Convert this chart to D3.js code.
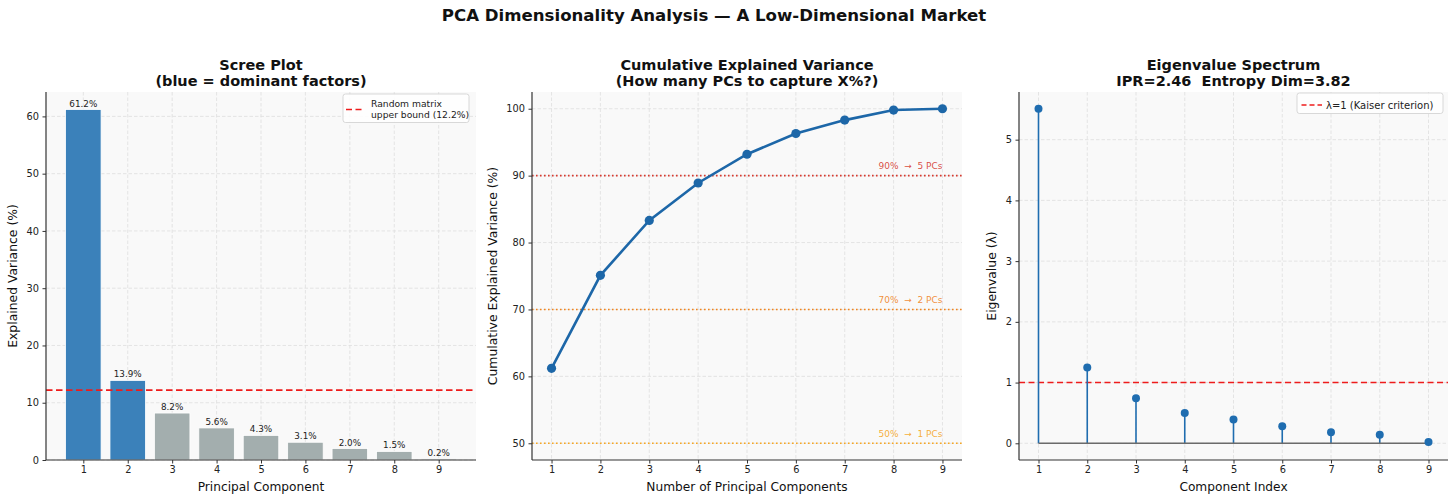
<!DOCTYPE html>
<html>
<head>
<meta charset="utf-8">
<script src="https://cdn.jsdelivr.net/npm/d3@7"></script>
<style>
  body { margin: 0; background: #fff; }
  svg { font-family: "DejaVu Sans", sans-serif; display: block; }
</style>
</head>
<body>
<svg width="1456" height="502"></svg>
<script>
// data
const components = [1, 2, 3, 4, 5, 6, 7, 8, 9];
const explainedPct = [61.2, 13.9, 8.2, 5.6, 4.3, 3.1, 2.0, 1.5, 0.2];
const cumulativePct = [61.2, 75.1, 83.3, 88.9, 93.2, 96.3, 98.3, 99.8, 100.0];
const eigenvalues = [5.51, 1.25, 0.74, 0.50, 0.39, 0.28, 0.18, 0.14, 0.02];
const dominantCount = 2;
const randomBound = 12.2;
const thresholdLevels = [90, 70, 50];
const thresholdPCs = [5, 2, 1];
const kaiserLevel = 1;

const screeTicks = [0, 10, 20, 30, 40, 50, 60];
const cumTicks = [50, 60, 70, 80, 90, 100];
const eigTicks = [0, 1, 2, 3, 4, 5];

const svg = d3.select("svg");
const axTop = 92, axBottom = 460;

// suptitle
svg.append("text")
  .attr("x", 714).attr("y", 21)
  .attr("text-anchor", "middle")
  .attr("font-size", 16.6).attr("font-weight", "bold")
  .attr("fill", "#111")
  .text("PCA Dimensionality Analysis — A Low-Dimensional Market");

// builds one panel: background, grid, axes, titles
function panel(opts) {
  const x = d3.scaleLinear().domain(opts.xDomain).range([opts.left, opts.right]);
  const y = d3.scaleLinear().domain(opts.yDomain).range([axBottom, axTop]);
  const g = svg.append("g");

  g.append("rect")
    .attr("x", opts.left).attr("y", axTop)
    .attr("width", opts.right - opts.left).attr("height", axBottom - axTop)
    .attr("fill", "#f9f9f9");

  // grid
  g.selectAll(".gx").data(components).join("line")
    .attr("x1", d => x(d)).attr("x2", d => x(d))
    .attr("y1", axTop).attr("y2", axBottom)
    .attr("stroke", "#dedede").attr("stroke-width", 0.8)
    .attr("stroke-dasharray", "3.5,2");
  g.selectAll(".gy").data(opts.yTicks).join("line")
    .attr("x1", opts.left).attr("x2", opts.right)
    .attr("y1", d => y(d)).attr("y2", d => y(d))
    .attr("stroke", "#dedede").attr("stroke-width", 0.8)
    .attr("stroke-dasharray", "3.5,2");

  const marks = svg.append("g");
  const axes = svg.append("g");

  const xa = axes.append("g").attr("transform", `translate(0,${axBottom})`)
    .call(d3.axisBottom(x).tickValues(components).tickFormat(d3.format("d"))
      .tickSize(3.5).tickSizeOuter(0).tickPadding(3));
  const ya = axes.append("g").attr("transform", `translate(${opts.left},0)`)
    .call(d3.axisLeft(y).tickValues(opts.yTicks).tickFormat(d3.format("d"))
      .tickSize(3.5).tickSizeOuter(0).tickPadding(3.5));
  [xa, ya].forEach(a => {
    a.attr("font-family", null).attr("font-size", 9.8);
    a.select(".domain").attr("stroke", "#333").attr("stroke-width", 1.2);
    a.selectAll(".tick line").attr("stroke", "#333").attr("stroke-width", 1);
    a.selectAll(".tick text").attr("fill", "#222");
  });
  ya.select(".domain").attr("d", `M0,${axTop}V${axBottom}`);
  xa.select(".domain").attr("d", `M${opts.left},0H${opts.right}`);

  const cx = (opts.left + opts.right) / 2;
  axes.append("text")
    .attr("x", cx).attr("y", 491)
    .attr("text-anchor", "middle").attr("font-size", 12.2).attr("fill", "#111")
    .text(opts.xLabel);
  axes.append("text")
    .attr("transform", `translate(${opts.yLabelX},${(axTop + axBottom) / 2}) rotate(-90)`)
    .attr("text-anchor", "middle").attr("font-size", 12.4).attr("fill", "#111")
    .text(opts.yLabel);

  opts.title.forEach((t, i) => {
    axes.append("text")
      .attr("x", cx).attr("y", 69.5 + i * 16.5)
      .attr("text-anchor", "middle").attr("font-size", 14.5)
      .attr("font-weight", "bold").attr("fill", "#111")
      .attr("xml:space", "preserve")
      .text(t);
  });

  return { x, y, marks, axes };
}

// ---- Scree plot ----
const p1 = panel({
  left: 46, right: 476,
  xDomain: [0.16, 9.84], yDomain: [0, 64.26], yTicks: screeTicks,
  xLabel: "Principal Component", yLabel: "Explained Variance (%)", yLabelX: 17,
  title: ["Scree Plot", "(blue = dominant factors)"]
});
const bw = 0.8;
p1.marks.selectAll("rect").data(explainedPct).join("rect")
  .attr("x", (d, i) => p1.x(components[i] - bw / 2))
  .attr("width", p1.x(bw) - p1.x(0))
  .attr("y", d => p1.y(d))
  .attr("height", d => p1.y(0) - p1.y(d))
  .attr("fill", (d, i) => i < dominantCount ? "#3b81ba" : "#a3aeae")
  .attr("stroke", "#fff").attr("stroke-width", 0.8);
p1.marks.selectAll("text").data(explainedPct).join("text")
  .attr("x", (d, i) => p1.x(components[i]))
  .attr("y", d => p1.y(d) - 3)
  .attr("text-anchor", "middle").attr("font-size", 8.8).attr("fill", "#222")
  .text(d => d.toFixed(1) + "%");
p1.marks.append("line")
  .attr("x1", 46).attr("x2", 476)
  .attr("y1", p1.y(randomBound)).attr("y2", p1.y(randomBound))
  .attr("stroke", "#ee1c1c").attr("stroke-width", 1.6)
  .attr("stroke-dasharray", "6.5,3.5");

// legend 1
const l1 = p1.axes.append("g");
l1.append("rect").attr("x", 343).attr("y", 94).attr("width", 126).attr("height", 28.5)
  .attr("rx", 2.5).attr("fill", "#fff").attr("fill-opacity", 0.85)
  .attr("stroke", "#cfcfcf").attr("stroke-width", 0.8);
l1.append("line").attr("x1", 346).attr("x2", 362).attr("y1", 109.5).attr("y2", 109.5)
  .attr("stroke", "#ee1c1c").attr("stroke-width", 1.6).attr("stroke-dasharray", "6,3.5");
l1.append("text").attr("x", 371).attr("y", 107.3).attr("font-size", 9.2).attr("fill", "#222")
  .text("Random matrix");
l1.append("text").attr("x", 371).attr("y", 118).attr("font-size", 9.2).attr("fill", "#222")
  .text(`upper bound (${randomBound}%)`);

// ---- Cumulative explained variance ----
const p2 = panel({
  left: 532, right: 962,
  xDomain: [0.6, 9.4], yDomain: [47.5, 102.5], yTicks: cumTicks,
  xLabel: "Number of Principal Components", yLabel: "Cumulative Explained Variance (%)", yLabelX: 497,
  title: ["Cumulative Explained Variance", "(How many PCs to capture X%?)"]
});
const thrColors = ["#d63a2f", "#f0841e", "#f5a623"];
thresholdLevels.forEach((lv, i) => {
  p2.marks.append("line")
    .attr("x1", 532).attr("x2", 962)
    .attr("y1", p2.y(lv)).attr("y2", p2.y(lv))
    .attr("stroke", thrColors[i]).attr("stroke-width", 1.6)
    .attr("stroke-dasharray", "1.6,2.4");
  p2.marks.append("text")
    .attr("x", p2.x(9)).attr("y", p2.y(lv) - 6.5)
    .attr("text-anchor", "end").attr("font-size", 9)
    .attr("fill", thrColors[i]).attr("fill-opacity", 0.9)
    .attr("xml:space", "preserve")
    .text(`${lv}%  →  ${thresholdPCs[i]} PCs`);
});
p2.marks.append("path")
  .attr("d", d3.line().x((d, i) => p2.x(components[i])).y(d => p2.y(d))(cumulativePct))
  .attr("fill", "none").attr("stroke", "#1d67a8").attr("stroke-width", 2.6);
p2.marks.selectAll("circle").data(cumulativePct).join("circle")
  .attr("cx", (d, i) => p2.x(components[i])).attr("cy", d => p2.y(d))
  .attr("r", 4.6).attr("fill", "#1d67a8");

// ---- Eigenvalue spectrum ----
const p3 = panel({
  left: 1019, right: 1448,
  xDomain: [0.6, 9.4], yDomain: [-0.275, 5.785], yTicks: eigTicks,
  xLabel: "Component Index", yLabel: "Eigenvalue (λ)", yLabelX: 996,
  title: ["Eigenvalue Spectrum", "IPR=2.46  Entropy Dim=3.82"]
});
p3.marks.append("line")
  .attr("x1", 1019).attr("x2", 1448)
  .attr("y1", p3.y(kaiserLevel)).attr("y2", p3.y(kaiserLevel))
  .attr("stroke", "#ee1c1c").attr("stroke-width", 1.6)
  .attr("stroke-dasharray", "6,3.5");
p3.marks.selectAll(".stem").data(eigenvalues).join("line")
  .attr("x1", (d, i) => p3.x(components[i])).attr("x2", (d, i) => p3.x(components[i]))
  .attr("y1", p3.y(0)).attr("y2", d => p3.y(d))
  .attr("stroke", "#1f6db0").attr("stroke-width", 1.6);
p3.marks.append("line")
  .attr("x1", p3.x(components[0])).attr("x2", p3.x(components[components.length - 1]))
  .attr("y1", p3.y(0)).attr("y2", p3.y(0))
  .attr("stroke", "#6b6b6b").attr("stroke-width", 1.6);
p3.marks.selectAll("circle").data(eigenvalues).join("circle")
  .attr("cx", (d, i) => p3.x(components[i])).attr("cy", d => p3.y(d))
  .attr("r", 4).attr("fill", "#1f6db0");

// legend 3
const l3 = p3.axes.append("g");
l3.append("rect").attr("x", 1297).attr("y", 93).attr("width", 146).attr("height", 20.5)
  .attr("rx", 2.5).attr("fill", "#fff").attr("fill-opacity", 0.85)
  .attr("stroke", "#cfcfcf").attr("stroke-width", 0.8);
l3.append("line").attr("x1", 1301.5).attr("x2", 1322).attr("y1", 105).attr("y2", 105)
  .attr("stroke", "#ee1c1c").attr("stroke-width", 1.6).attr("stroke-dasharray", "5,3");
l3.append("text").attr("x", 1326).attr("y", 108.5).attr("font-size", 10).attr("fill", "#222")
  .text("λ=1 (Kaiser criterion)");
</script>
</body>
</html>
